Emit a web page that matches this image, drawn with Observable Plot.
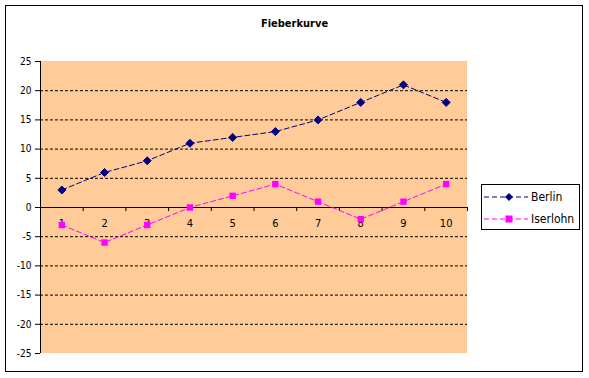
<!DOCTYPE html>
<html><head><meta charset="utf-8">
<script src="https://cdn.jsdelivr.net/npm/d3@7"></script>
<script src="https://cdn.jsdelivr.net/npm/@observablehq/plot@0.6"></script>
<style>
body{margin:0;background:#fff;}
#wrap{position:relative;width:589px;height:378px;font-family:"DejaVu Sans Condensed","DejaVu Sans",sans-serif;}
#border{position:absolute;left:5px;top:5px;width:576px;height:365px;border:1px solid #000;pointer-events:none;}
#title{position:absolute;left:0;width:589px;top:17px;text-align:center;font-weight:bold;font-size:11px;}
#legend{position:absolute;left:481px;top:184px;width:97px;height:44px;border:1px solid #000;background:#fff;}
#chart{position:absolute;left:0;top:0;}
</style>
</head><body>
<div id="wrap"><div id="chart"></div><div id="border"></div><div id="title">Fieberkurve</div><div id="legend"></div></div>
<script>
const categories = [1,2,3,4,5,6,7,8,9,10];
const berlin = [3,6,8,11,12,13,15,18,21,18];
const iserlohn = [-3,-6,-3,0,2,4,1,-2,1,4];
const yTicks = [-25,-20,-15,-10,-5,0,5,10,15,20,25];
const seriesNames = ["Berlin","Iserlohn"];
const colors = ["#000080","#FF00FF"];

const data = [
  ...categories.map((c,i)=>({x:c,y:berlin[i],s:"Berlin"})),
  ...categories.map((c,i)=>({x:c,y:iserlohn[i],s:"Iserlohn"}))
];
const gridVals = yTicks.filter(v=>v!==0 && Math.abs(v)!==25);
const bounds = d3.range(1.5, 11, 1);

const chart = Plot.plot({
  width:589, height:378,
  marginLeft:40, marginRight:122, marginTop:61, marginBottom:25,
  style:{fontFamily:'"DejaVu Sans Condensed","DejaVu Sans",sans-serif', fontSize:"10px", background:"transparent"},
  x:{type:"linear", domain:[0.5,10.5], axis:null},
  y:{type:"linear", domain:[-25,25], axis:null},
  marks:[
    Plot.rect([{}],{x1:0.5,x2:10.5,y1:-25,y2:25,fill:"#FFCC99"}),
    Plot.ruleY(gridVals,{stroke:"#000",strokeDasharray:"3,2",strokeWidth:1}),
    Plot.ruleY([0],{stroke:"#000",strokeWidth:1}),
    Plot.ruleX([0.5],{y1:-25,y2:25,stroke:"#000"}),
    Plot.ruleX(bounds,{x:d=>d,y1:0,y2:-0.7,stroke:"#000"}),
    Plot.axisY({ticks:yTicks,tickSize:5,tickPadding:4,label:null,fontSize:10,tickFormat:d=>String(d)}),
    Plot.text(categories,{x:d=>d,y:0,text:d=>String(d),dy:16,fontSize:11,fill:"#000"}),
    Plot.line(data.filter(d=>d.s==="Berlin"),{x:"x",y:"y",stroke:colors[0],strokeDasharray:"5,3",strokeWidth:1}),
    Plot.line(data.filter(d=>d.s==="Iserlohn"),{x:"x",y:"y",stroke:colors[1],strokeDasharray:"5,3",strokeWidth:1}),
    Plot.dot(data.filter(d=>d.s==="Berlin"),{x:"x",y:"y",symbol:"diamond2",r:3.6,fill:colors[0],stroke:colors[0],strokeWidth:1}),
    Plot.dot(data.filter(d=>d.s==="Iserlohn"),{x:"x",y:"y",symbol:"square",r:3.6,fill:colors[1]})
  ]
});
document.getElementById("chart").appendChild(chart);

// legend
const lg = d3.select("#legend").append("svg").attr("width",97).attr("height",44)
  .style("font-family",'"DejaVu Sans Condensed","DejaVu Sans",sans-serif');
seriesNames.forEach((n,i)=>{
  const y = 12 + i*22;
  const g = lg.append("g");
  g.append("line").attr("x1",2).attr("x2",46).attr("y1",y).attr("y2",y)
    .attr("stroke",colors[i]).attr("stroke-dasharray","5,3");
  if(i===0){
    g.append("path").attr("d","M0,-4L4,0L0,4L-4,0Z").attr("transform",`translate(27,${y})`).attr("fill",colors[i]);
  } else {
    g.append("rect").attr("x",23.5).attr("y",y-3.5).attr("width",7).attr("height",7).attr("fill",colors[i]);
  }
  g.append("text").attr("x",49).attr("y",y).attr("dy","0.35em").attr("font-size",12).text(n);
});
</script>
</body></html>
